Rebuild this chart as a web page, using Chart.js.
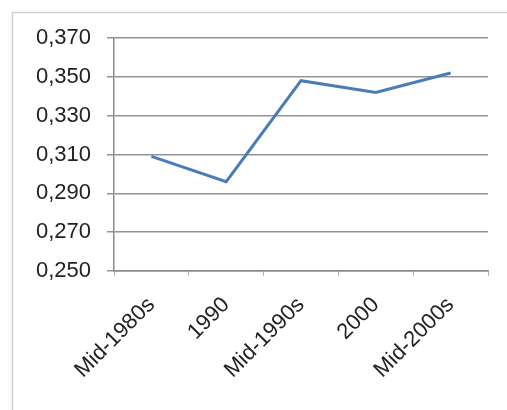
<!DOCTYPE html>
<html>
<head>
<meta charset="utf-8">
<script src="https://cdn.jsdelivr.net/npm/chart.js@4"></script>
<style>
  html, body { margin: 0; padding: 0; background: #fff; }
  #wrap { position: relative; width: 507px; height: 410px; }
</style>
</head>
<body>
<div id="wrap"><canvas id="lineChart" width="507" height="410"></canvas></div>
<script>
// Gini values per period
const periods = ["Mid-1980s", "1990", "Mid-1990s", "2000", "Mid-2000s"];
const giniValues = [0.309, 0.296, 0.348, 0.342, 0.352];
const yTickLabels = ["0,250", "0,270", "0,290", "0,310", "0,330", "0,350", "0,370"];

// light frame around the whole chart, open on the right and bottom
const framePlugin = {
  id: "frame",
  beforeDraw(chart) {
    const ctx = chart.ctx;
    ctx.save();
    ctx.strokeStyle = "#cfcfcf";
    ctx.lineWidth = 1.5;
    ctx.strokeRect(12.5, 12.5, 700, 700);
    ctx.restore();
  }
};

const ctx = document.getElementById("lineChart").getContext("2d");

new Chart(ctx, {
  type: "line",
  data: {
    labels: periods,
    datasets: [
      {
        label: "Gini",
        data: giniValues,
        borderColor: "#4a7cb8",
        borderWidth: 3,
        pointRadius: 0,
        tension: 0,
        fill: false
      }
    ]
  },
  options: {
    responsive: false,
    animation: false,
    layout: { padding: { top: 38, right: 19, left: 0, bottom: 0 } },
    plugins: {
      legend: { display: false },
      tooltip: { enabled: false }
    },
    scales: {
      x: {
        offset: true,
        afterFit(scale) { scale.height = 139; },
        grid: {
          offset: true,
          drawOnChartArea: false,
          drawTicks: true,
          tickLength: 5,
          color: "#b5b5b5",
          lineWidth: 1
        },
        border: { color: "#8a8a8a", width: 1.5 },
        ticks: {
          minRotation: 45,
          maxRotation: 45,
          padding: 16,
          color: "#222222",
          font: { family: "Liberation Sans", size: 22 }
        }
      },
      y: {
        min: 0.25,
        max: 0.37,
        afterFit(scale) { scale.width = 114; },
        grid: {
          color: "#939393",
          lineWidth: 1.5,
          drawTicks: true,
          tickLength: 7
        },
        border: { color: "#8a8a8a", width: 1.5 },
        ticks: {
          stepSize: 0.02,
          padding: 16,
          color: "#222222",
          font: { family: "Liberation Sans", size: 22 },
          callback: (value, index) => yTickLabels[index]
        }
      }
    }
  },
  plugins: [framePlugin]
});
</script>
</body>
</html>
